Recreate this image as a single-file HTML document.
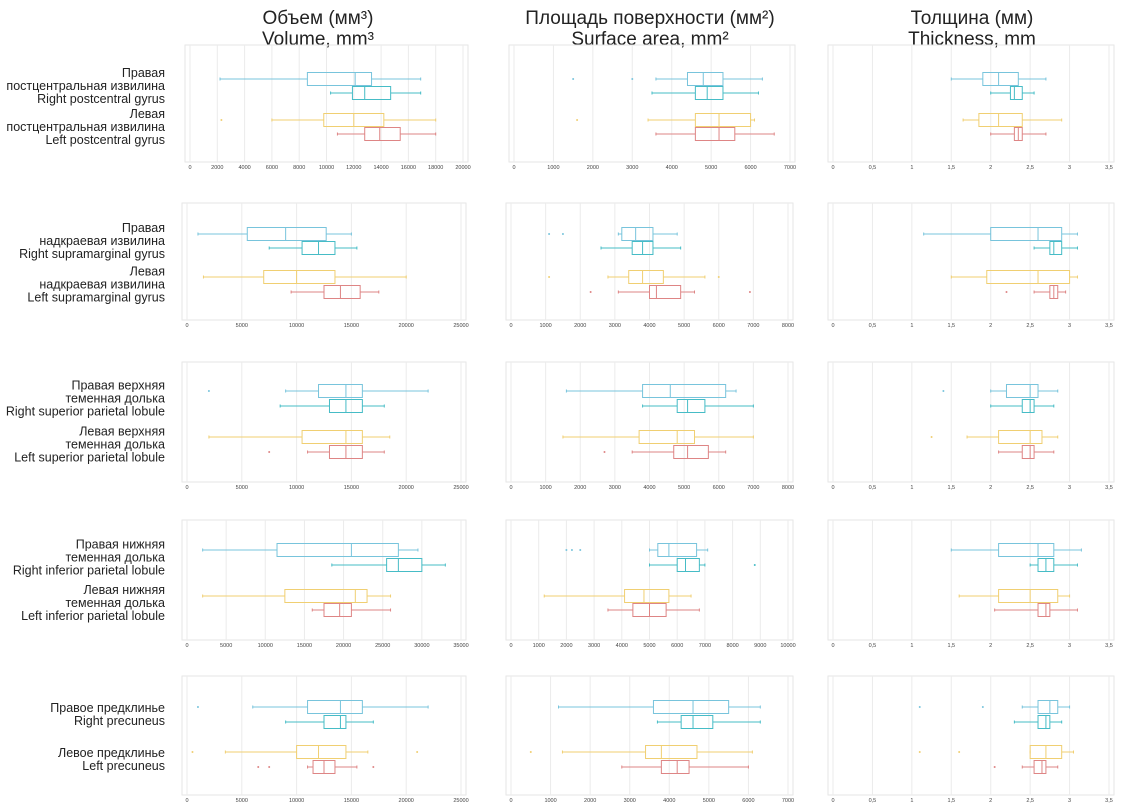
<!DOCTYPE html>
<html><head><meta charset="utf-8"><style>
html,body{margin:0;padding:0;background:#fff;}
svg{display:block;font-family:"Liberation Sans","DejaVu Sans",sans-serif;}
</style></head><body>
<svg id="chart" width="1123" height="811" viewBox="0 0 1123 811" xmlns="http://www.w3.org/2000/svg">
<g font-size="19" fill="#222" text-anchor="middle">
<text x="318" y="24">Объем (мм³)</text>
<text x="318" y="45">Volume, mm³</text>
<text x="650" y="24">Площадь поверхности (мм²)</text>
<text x="650" y="45">Surface area, mm²</text>
<text x="972" y="24">Толщина (мм)</text>
<text x="972" y="45">Thickness, mm</text>
</g>
<g id="labels" font-size="12.5" fill="#222" text-anchor="end"></g>
<g id="panels"></g>
</svg>
<script>
// Row labels
const rowLabels = [
 [["Правая","постцентральная извилина","Right postcentral gyrus"],["Левая","постцентральная извилина","Left postcentral gyrus"]],
 [["Правая","надкраевая извилина","Right supramarginal gyrus"],["Левая","надкраевая извилина","Left supramarginal gyrus"]],
 [["Правая верхняя","теменная долька","Right superior parietal lobule"],["Левая верхняя","теменная долька","Left superior parietal lobule"]],
 [["Правая нижняя","теменная долька","Right inferior parietal lobule"],["Левая нижняя","теменная долька","Left inferior parietal lobule"]],
 [["Правое предклинье","Right precuneus"],["Левое предклинье","Left precuneus"]]
];
// Axis maxima and tick steps
const axisMax = [[20000,7000,3.5],[25000,8000,3.5],[25000,8000,3.5],[35000,10000,3.5],[25000,7000,3.5]];
const axisStep = [[2000,1000,0.5],[5000,1000,0.5],[5000,1000,0.5],[5000,1000,0.5],[5000,1000,0.5]];
// Box stats per panel: [whiskerLo, q1, median, q3, whiskerHi] for series blue, teal, yellow, red
const volStats = [
 [[2200,8600,12100,13300,16900],[10300,11900,12800,14700,16900],[6000,9800,12000,14200,18000],[10800,12800,13900,15400,18000]],
 [[1000,5500,9000,12700,15000],[7500,10500,12000,13500,15500],[1500,7000,10000,13500,20000],[9500,12500,14000,15800,17500]],
 [[9000,12000,14500,16000,22000],[8500,13000,14500,16000,18000],[2000,10500,14500,16000,18500],[11000,13000,14500,16000,18000]],
 [[2000,11500,21000,27000,29500],[18500,25500,27000,30000,33000],[2000,12500,21500,23000,26000],[16000,17500,19500,21000,26000]],
 [[6000,11000,14000,16000,22000],[9000,12500,14000,14500,17000],[3500,10000,12000,14500,16500],[11000,11500,12500,13500,15500]]
];
const areaStats = [
 [[3600,4400,4800,5300,6300],[3500,4600,4900,5300,6200],[3400,4600,5200,6000,6100],[3600,4600,5200,5600,6600]],
 [[3100,3200,3600,4100,4800],[2600,3500,3800,4100,4900],[2800,3400,3800,4400,5600],[3100,4000,4200,4900,5300]],
 [[1600,3800,4600,6200,6500],[3800,4800,5100,5600,7000],[1500,3700,4800,5300,7000],[3500,4700,5100,5700,6200]],
 [[5000,5300,5700,6700,7100],[5000,6000,6300,6800,7000],[1200,4100,4800,5700,6500],[3500,4400,5000,5600,6800]],
 [[1200,3600,4600,5500,6300],[3700,4300,4600,5100,6300],[1300,3400,3800,4700,6100],[2800,3800,4200,4500,6000]]
];
const thickStats = [
 [[1.5,1.9,2.1,2.35,2.7],[2.0,2.25,2.3,2.4,2.55],[1.65,1.85,2.1,2.4,2.9],[2.0,2.3,2.35,2.4,2.7]],
 [[1.15,2.0,2.6,2.9,3.1],[2.55,2.75,2.8,2.9,3.1],[1.5,1.95,2.6,3.0,3.1],[2.55,2.75,2.8,2.85,2.95]],
 [[2.0,2.2,2.5,2.6,2.85],[2.0,2.4,2.5,2.55,2.8],[1.7,2.1,2.5,2.65,2.85],[2.1,2.4,2.5,2.55,2.8]],
 [[1.5,2.1,2.6,2.8,3.15],[2.5,2.6,2.7,2.8,3.1],[1.6,2.1,2.5,2.85,3.0],[2.05,2.6,2.7,2.75,3.1]],
 [[2.4,2.6,2.75,2.85,3.0],[2.3,2.6,2.7,2.75,2.9],[2.5,2.5,2.7,2.9,3.05],[2.4,2.55,2.65,2.7,2.85]]
];
// Outliers per panel/series
const volOut = [[[],[],[2300],[]],[[],[],[],[]],[[2000],[],[],[7500]],[[],[],[],[]],[[1000],[],[500,21000],[6500,7500,17000]]];
const areaOut = [[[1500,3000],[],[1600],[]],[[1100,1500],[],[1100,6000],[2300,6900]],[[],[],[],[2700]],[[2000,2200,2500],[8800],[],[]],[[],[],[500],[]]];
const thickOut = [[[],[],[],[]],[[],[],[],[2.2]],[[1.4],[],[1.25],[]],[[],[],[],[]],[[1.1,1.9],[],[1.1,1.6],[2.05]]];

const colors = ["#78c4dc","#46bcc6","#f0cf72","#de8585"];
const seriesNames = ["right-1","right-2","left-1","left-2"];
const frames = [[45,162],[203,320],[362,482],[520,640],[676,795]];
const boxY = [[79,93,120,134],[234,248,277,292],[391,406,437,452],[550,565,596,610],[707,722,752,767]];
const colX = [[187,461],[511,788],[833,1109]];

const NS="http://www.w3.org/2000/svg";
const P=document.getElementById('panels');
const L=document.getElementById('labels');
function mk(tag,attrs,parent){const e=document.createElementNS(NS,tag);for(const k in attrs)e.setAttribute(k,attrs[k]);parent.appendChild(e);return e;}

// labels
rowLabels.forEach((r,ri)=>{
  r.forEach((lines,hi)=>{
    const cy=(boxY[ri][hi*2]+boxY[ri][hi*2+1])/2;
    const n=lines.length;
    lines.forEach((t,li)=>{
      const tx=mk('text',{x:165,y:cy+4+(li-(n-1)/2)*13},L);
      
      
      tx.textContent=t;
    });
  });
});

const statsAll=[volStats,areaStats,thickStats];
const outAll=[volOut,areaOut,thickOut];
for(let r=0;r<5;r++){
  for(let c=0;c<3;c++){
    const g=mk('g',{},P);
    
    
    const x0=colX[c][0]+(r===0&&c<2?3:0), x1=colX[c][1]+(r===0&&c<2?2:0);
    const max=axisMax[r][c], step=axisStep[r][c];
    const sx=v=>x0+(v/max)*(x1-x0);
    const [fy0,fy1]=frames[r];
    const fr=mk('rect',{x:x0-5,y:fy0,width:x1-x0+10,height:fy1-fy0,fill:'none',stroke:'#e6e6e6','stroke-width':1},g);
    
    
    const nt=Math.round(max/step);
    for(let i=0;i<=nt;i++){
      const v=i*step, x=sx(v);
      const gl=mk('line',{x1:x,x2:x,y1:fy0,y2:fy1,stroke:'#ebebeb','stroke-width':1},g);
      
      
      const t=mk('text',{x:x,y:fy1+7,'font-size':5.5,fill:'#444','text-anchor':'middle'},g);
      
      
      t.textContent=c===2?String(Math.round(v*10)/10).replace('.',','):String(v);
    }
    const st=statsAll[c][r], ou=outAll[c][r];
    st.forEach((s,si)=>{
      const y=boxY[r][si], col=colors[si], h=13;
      const bg=mk('g',{stroke:col,'stroke-width':1,fill:'none'},g);
      
      
      mk('line',{x1:sx(s[0]),x2:sx(s[1]),y1:y,y2:y},bg);
      mk('line',{x1:sx(s[3]),x2:sx(s[4]),y1:y,y2:y},bg);
      mk('line',{x1:sx(s[0]),x2:sx(s[0]),y1:y-1.5,y2:y+1.5},bg);
      mk('line',{x1:sx(s[4]),x2:sx(s[4]),y1:y-1.5,y2:y+1.5},bg);
      mk('rect',{x:sx(s[1]),y:y-h/2,width:Math.max(1,sx(s[3])-sx(s[1])),height:h},bg);
      mk('line',{x1:sx(s[2]),x2:sx(s[2]),y1:y-h/2,y2:y+h/2},bg);
      ou[si].forEach(v=>{
        const d=mk('circle',{cx:sx(v),cy:y,r:1,fill:col,stroke:'none'},g);
        
        
      });
    });
  }
}
</script>
</body></html>
